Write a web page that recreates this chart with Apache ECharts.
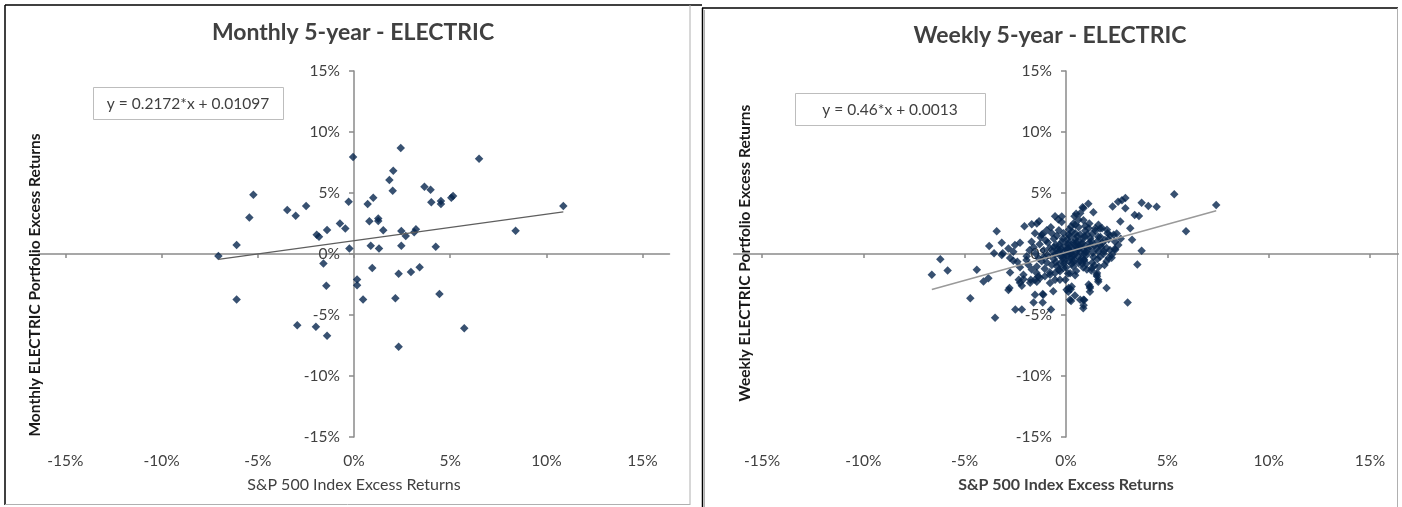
<!DOCTYPE html>
<html><head><meta charset="utf-8">
<script src="https://cdn.jsdelivr.net/npm/echarts@6/dist/echarts.min.js"></script>
<style>html,body{margin:0;padding:0;background:#fff}#c{width:1402px;height:507px}</style>
</head><body><div id="c"></div>
<script>
const titles = ['Monthly 5-year - ELECTRIC', 'Weekly 5-year - ELECTRIC'];
const equations = ['y = 0.2172*x + 0.01097', 'y = 0.46*x + 0.0013'];
const yNames = ['Monthly ELECTRIC Portfolio Excess Returns', 'Weekly ELECTRIC Portfolio Excess Returns'];
const xName = 'S&P 500 Index Excess Returns';
const tickValues = [-15, -10, -5, 0, 5, 10, 15];
// regression coefficients, in percent units
const monthlySlope = 0.2172, monthlyIntercept = 1.097;
const weeklySlope = 0.46, weeklyIntercept = 0.13;

// [S&P excess return %, portfolio excess return %]
const monthlyPoints = [
[-7.05,-0.16],[-6.10,0.74],[-5.44,3.00],[-5.23,4.86],[-3.47,3.60],[-3.03,3.14],[-2.49,3.93],
[-1.94,1.58],[-1.82,1.42],[-1.40,1.97],[-0.73,2.49],[-0.45,2.08],[-0.28,4.29],[-0.05,7.95],
[-0.24,0.46],[0.71,4.10],[1.00,4.62],[0.80,2.68],[1.26,2.90],[1.26,2.70],[1.52,1.94],
[0.87,0.68],[1.30,0.46],[1.84,6.07],[2.04,6.83],[2.01,5.19],[2.43,8.69],[2.46,1.89],
[2.46,0.68],[2.69,1.48],[3.13,1.78],[3.22,2.02],[3.66,5.52],[3.98,5.27],[4.02,4.24],
[4.52,4.34],[4.52,4.10],[4.25,0.60],[5.06,4.61],[5.15,4.75],[6.50,7.81],[8.40,1.91],
[10.88,3.93],[-1.59,-0.77],[-1.44,-2.60],[-6.10,-3.72],[-2.95,-5.85],[-1.98,-5.96],
[-1.40,-6.70],[0.16,-2.08],[0.16,-2.57],[0.47,-3.72],[0.95,-1.15],[2.15,-3.63],
[2.32,-1.61],[2.96,-1.48],[3.41,-1.09],[4.44,-3.28],[5.73,-6.09],[2.32,-7.60]
];

const weeklyPoints = [
[-6.62,-1.71],[-6.2,-0.43],[-5.84,-1.36],[-4.72,-3.63],[-4.4,-1.3],[-4.07,-2.25],[-3.83,-1.98],
[-3.79,0.65],[-3.55,0.06],[-3.42,1.87],[-3.17,0.92],[-3.12,0.06],[-3.17,-0.08],[-2.84,0.46],
[-2.76,-1.52],[-2.79,-2.79],[-2.84,-2.95],[-2.6,0.19],[-2.52,0.74],[-2.27,0.92],[-2.05,2.28],
[-1.69,2.44],[-2.33,-2.11],[-2.18,-2.6],[-2.4,-0.63],[-2.27,-1.08],[-2.76,-0.33],[-2.6,-0.55],
[-1.94,-0.19],[-1.86,-0.89],[-1.74,-2.11],[-1.44,2.5],[-1.33,2.68],[-1.53,-2.11],[-1.37,-1.85],
[-1.44,-1.03],[-1.69,-1.28],[-1.45,-1.56],[-2.1,-1.7],[-1.53,-3.33],[-1.12,-3.33],[-1.15,1.63],
[-0.95,1.95],[-1.53,1.71],[-1.2,1.57],[-0.7,1.71],[-0.54,3.09],[-0.38,2.82],[-0.21,2.63],
[-0.21,3.07],[-0.54,-2.11],[-0.3,-2.11],[-0.79,-2.38],[-0.63,-3.06],[-1.28,-1.97],[-1.04,-1.83],
[-0.79,-1.7],[-0.54,-1.56],[-0.3,-1.42],[-0.13,-1.15],[0.03,-2.93],[0.28,-2.66],[0.42,3.09],
[0.5,3.3],[0.86,3.76],[1.1,4.12],[1.35,3.43],[0.86,2.76],[0.37,2.5],[0.62,2.8],[1.68,2.09],
[1.12,2.11],[1.45,2.11],[1.78,2.11],[2.02,1.98],[2.35,1.57],[2.3,3.9],[2.57,4.28],[2.76,4.41],
[2.93,4.6],[2.93,3.74],[2.68,2.66],[3.39,3.2],[3.17,2.11],[3.26,1.17],[3.52,-0.87],[1.18,-2.79],
[1.59,-2.11],[2.0,-2.79],[0.86,-3.74],[0.2,-3.74],[0.44,-3.41],[-3.5,-5.23],[-2.5,-4.55],
[-2.18,-4.55],[-1.6,-3.98],[-1.15,-3.98],[-1.15,-3.28],[-0.74,-4.55],[-2.27,-2.35],[-2.1,-2.07],
[-1.77,-2.35],[-1.44,-2.27],[-0.03,-2.11],[0.23,-2.89],[0.11,-3.09],[0.25,-3.85],[0.9,-3.77],
[0.85,-4.45],[1.18,-2.66],[1.18,-3.09],[1.59,-2.27],[1.53,-1.56],[1.53,-1.83],[1.28,-1.15],
[0.87,-0.47],[1.03,-1.28],[1.12,-2.49],[0.2,-1.57],[1.51,-1.71],[3.04,-3.98],[5.34,4.89],
[7.41,4.02],[5.92,1.86],[3.73,0.27],[3.73,4.2],[4.06,3.93],[4.47,3.88],[3.6,3.12],[0.82,3.83],
[0.7,3.33],[1.68,-0.22],[2.17,0.33],[2.5,1.68],[2.17,1.54],[1.92,1.14],[1.59,1.41],[2.42,1.0],
[2.58,0.73],[2.43,0.35],[2.27,-0.05],[2.1,-0.33],[1.86,0.22],[1.69,0.76],[0.46,1.71],[0.13,1.57],
[0.46,2.4],[0.7,-3.74],[0.87,-4.2],[0.13,-2.79],
[-0.1,0.2],[0.3,0.5],[0.6,-0.2],[0.15,-0.6],[-0.4,0.1],[0.8,0.9],[1.1,0.4],[0.45,1.2],[-0.2,1.0],
[0.05,-0.15],[0.9,-0.5],[1.4,0.7],[0.25,0.05],[-0.6,-0.4],[-0.8,0.5],[0.7,1.6],[1.2,1.3],[1.6,0.2],
[0.35,-1.0],[-0.3,-0.8],[0.55,0.35],[0.1,0.8],[-0.5,0.75],[1.0,-0.1],[1.3,-0.7],[0.4,-0.45],
[-0.15,-0.35],[0.2,1.45],[0.65,0.65],[-0.9,-0.1],[-1.1,0.3],[1.8,0.9],[2.0,0.5],[0.95,1.9],
[0.15,2.0],[-0.45,1.5],[-0.7,-0.9],[0.5,-1.4],[0.85,-1.1],[1.55,-0.4],[-1.3,0.8],[-1.0,1.1],
[-0.25,0.45],[0.72,0.15],[0.3,-0.2],[-0.05,0.6],[0.5,0.95],[1.15,0.95],[1.7,1.4],[-0.35,-1.3],
[0.0,-1.1],[-1.2,-0.6],[-0.55,-0.05],[0.18,0.28],[0.42,0.7],[0.88,0.3],[1.05,1.6],[1.45,1.9],
[-0.6,1.25],[-0.12,1.7],[0.3,1.85],[0.62,2.2],[-1.05,-1.2],[-0.8,-1.5],[0.1,-1.6],[0.62,-0.75],
[1.25,-1.35],[1.9,-0.9],[2.1,1.2],[1.85,0.05],[0.0,0.0],[0.22,-0.32],[-0.2,-0.1],[0.48,0.1],
[0.78,-0.35],[1.32,0.1],[-0.42,0.4],[-0.65,0.2],[-1.5,0.05],[-1.35,-0.35],[-1.6,0.55],[-1.8,0.3],
[-1.95,-0.5],[-1.7,1.0],[-1.25,1.35],[0.95,0.65],[1.55,1.05],[0.35,0.92],[0.12,0.5],[-0.32,0.75],
[0.7,-0.55],[0.28,-0.8],[-0.08,-0.55],[1.0,-0.8],[1.62,-1.05],[2.25,-0.3],[2.4,0.4],[0.55,1.45],
[0.85,1.25],[1.3,1.65],[-0.15,1.25],[-0.9,0.95],[-0.5,-0.65],[-0.95,-0.7],[0.05,0.35],[0.65,0.45],
[0.4,-0.1],[-0.25,-0.2],[0.92,0.05],[1.18,0.62],
[0.55,0.6],[0.75,0.75],[1.0,0.2],[0.2,0.15],[-0.3,0.3],[0.15,0.95],[0.9,1.45],[1.25,1.05],
[0.38,-0.65],[-0.1,-0.75],[0.6,1.05],[1.5,0.45],[1.75,0.6],[0.05,1.2],[-0.6,0.55],[0.8,-0.8],
[1.35,-0.25],[0.25,2.25],[-0.35,1.95],[1.15,2.5],[1.6,2.4],[0.95,2.3],[-0.75,2.2],[2.05,1.7],
[2.7,1.25],[2.0,-0.6],[-1.1,-0.25],[-0.45,-1.0],[0.45,-1.75],[1.4,-0.95]
];

function trend(points, a, b) {
  const xs = points.map(p => p[0]);
  const lo = Math.min(...xs), hi = Math.max(...xs);
  return [[lo, a * lo + b], [hi, a * hi + b]];
}

const FONT = 'Lato, "Liberation Sans", sans-serif';
const TXT = '#404040';
const AXC = '#8a8a8a';
const DOT = '#06254d';
const XR = 16.4; // horizontal axis line extends a bit beyond the ±15% labels

const grids = [
  { left: 38.5, width: 631, top: 71, height: 366 },
  { left: 733.6, width: 664.8, top: 71, height: 366 }
];

const xAxes = [], yAxes = [];
[0, 1].forEach(g => {
  xAxes.push({
    gridIndex: g, type: 'value', min: -XR, max: XR,
    axisLine: { show: true, onZero: true, onZeroAxisIndex: g, lineStyle: { color: AXC, width: 1.5 } },
    axisTick: { show: true, customValues: tickValues, length: 4, lineStyle: { color: AXC, width: 1.5 } },
    axisLabel: { show: false }, splitLine: { show: false }
  });
  xAxes.push({
    gridIndex: g, type: 'value', min: -XR, max: XR, position: 'bottom',
    axisLine: { show: false, onZero: false }, axisTick: { show: false },
    axisLabel: { customValues: tickValues, formatter: '{value}%', margin: 16, fontSize: 15.5, color: TXT, fontFamily: FONT },
    splitLine: { show: false },
    name: xName, nameLocation: 'middle', nameGap: 40,
    nameTextStyle: { fontSize: 16, color: TXT, fontFamily: FONT, fontWeight: g === 1 ? 'bold' : 'normal' }
  });
  // vertical axis drawn at x = 0 (centre of the symmetric horizontal range)
  yAxes.push({
    gridIndex: g, type: 'value', min: -15, max: 15, interval: 5, position: 'left',
    offset: -grids[g].width / 2,
    axisLine: { show: true, onZero: false, lineStyle: { color: AXC, width: 1.5 } },
    axisTick: { show: true, length: 5, lineStyle: { color: AXC, width: 1.5 } },
    axisLabel: { formatter: '{value}%', margin: 14, fontSize: 15.5, color: TXT, fontFamily: FONT },
    splitLine: { show: false }
  });
});

const option = {
  backgroundColor: '#fff',
  animation: false,
  title: [
    { text: titles[0], left: 353, top: 21, textAlign: 'center', padding: 0,
      textStyle: { fontFamily: FONT, fontWeight: 'bold', fontSize: 23, color: TXT } },
    { text: titles[1], left: 1050, top: 24, textAlign: 'center', padding: 0,
      textStyle: { fontFamily: FONT, fontWeight: 'bold', fontSize: 23, color: TXT } }
  ],
  grid: grids,
  xAxis: xAxes,
  yAxis: yAxes,
  series: [
    { type: 'scatter', xAxisIndex: 0, yAxisIndex: 0, data: monthlyPoints, symbol: 'diamond', symbolSize: 8.5,
      itemStyle: { color: DOT }, silent: true, z: 2 },
    { type: 'line', xAxisIndex: 0, yAxisIndex: 0, data: trend(monthlyPoints, monthlySlope, monthlyIntercept),
      symbol: 'none', lineStyle: { color: '#5e5e5e', width: 1.2 }, silent: true, z: 3 },
    { type: 'scatter', xAxisIndex: 2, yAxisIndex: 1, data: weeklyPoints, symbol: 'diamond', symbolSize: 8.5,
      itemStyle: { color: DOT }, silent: true, z: 2 },
    { type: 'line', xAxisIndex: 2, yAxisIndex: 1, data: trend(weeklyPoints, weeklySlope, weeklyIntercept),
      symbol: 'none', lineStyle: { color: '#9a9a9a', width: 1.5 }, silent: true, z: 3 }
  ],
  graphic: [
    // panel frames
    { type: 'line', shape: { x1: 5, y1: 5, x2: 702, y2: 5 }, style: { stroke: '#000', lineWidth: 1.5 }, silent: true },
    { type: 'line', shape: { x1: 5, y1: 5, x2: 5, y2: 505 }, style: { stroke: '#000', lineWidth: 1.5 }, silent: true },
    { type: 'line', shape: { x1: 690, y1: 5, x2: 690, y2: 505 }, style: { stroke: '#b0b0b0', lineWidth: 1 }, silent: true },
    { type: 'line', shape: { x1: 5, y1: 504.5, x2: 690, y2: 504.5 }, style: { stroke: '#b0b0b0', lineWidth: 1 }, silent: true },
    { type: 'line', shape: { x1: 702, y1: 8, x2: 1398, y2: 8 }, style: { stroke: '#000', lineWidth: 1.5 }, silent: true },
    { type: 'line', shape: { x1: 702.5, y1: 8, x2: 702.5, y2: 507 }, style: { stroke: '#000', lineWidth: 1.5 }, silent: true },
    { type: 'line', shape: { x1: 704.5, y1: 10, x2: 704.5, y2: 507 }, style: { stroke: '#b0b0b0', lineWidth: 1 }, silent: true },
    { type: 'line', shape: { x1: 1397.5, y1: 8, x2: 1397.5, y2: 507 }, style: { stroke: '#b0b0b0', lineWidth: 1 }, silent: true },
    // equation boxes
    { type: 'rect', shape: { x: 93.5, y: 87.5, width: 190, height: 32 }, style: { fill: '#fff', stroke: '#bdbdbd', lineWidth: 1 }, z: 10, silent: true },
    { type: 'text', x: 188, y: 103.5, z: 11, silent: true,
      style: { text: equations[0], font: '15.5px ' + FONT, fill: TXT, align: 'center', verticalAlign: 'middle' } },
    { type: 'rect', shape: { x: 795.5, y: 93.5, width: 190, height: 32 }, style: { fill: '#fff', stroke: '#bdbdbd', lineWidth: 1 }, z: 10, silent: true },
    { type: 'text', x: 890, y: 109.5, z: 11, silent: true,
      style: { text: equations[1], font: '15.5px ' + FONT, fill: TXT, align: 'center', verticalAlign: 'middle' } },
    // vertical axis names
    { type: 'text', x: 35, y: 285, rotation: Math.PI / 2, z: 11, silent: true,
      style: { text: yNames[0], font: 'bold 15.5px ' + FONT, fill: '#1a1a1a', align: 'center', verticalAlign: 'middle' } },
    { type: 'text', x: 745, y: 253, rotation: Math.PI / 2, z: 11, silent: true,
      style: { text: yNames[1], font: 'bold 15.5px ' + FONT, fill: '#1a1a1a', align: 'center', verticalAlign: 'middle' } }
  ]
};

const chart = echarts.init(document.getElementById('c'), null, { renderer: 'canvas' });
chart.setOption(option);
</script>
</body></html>
